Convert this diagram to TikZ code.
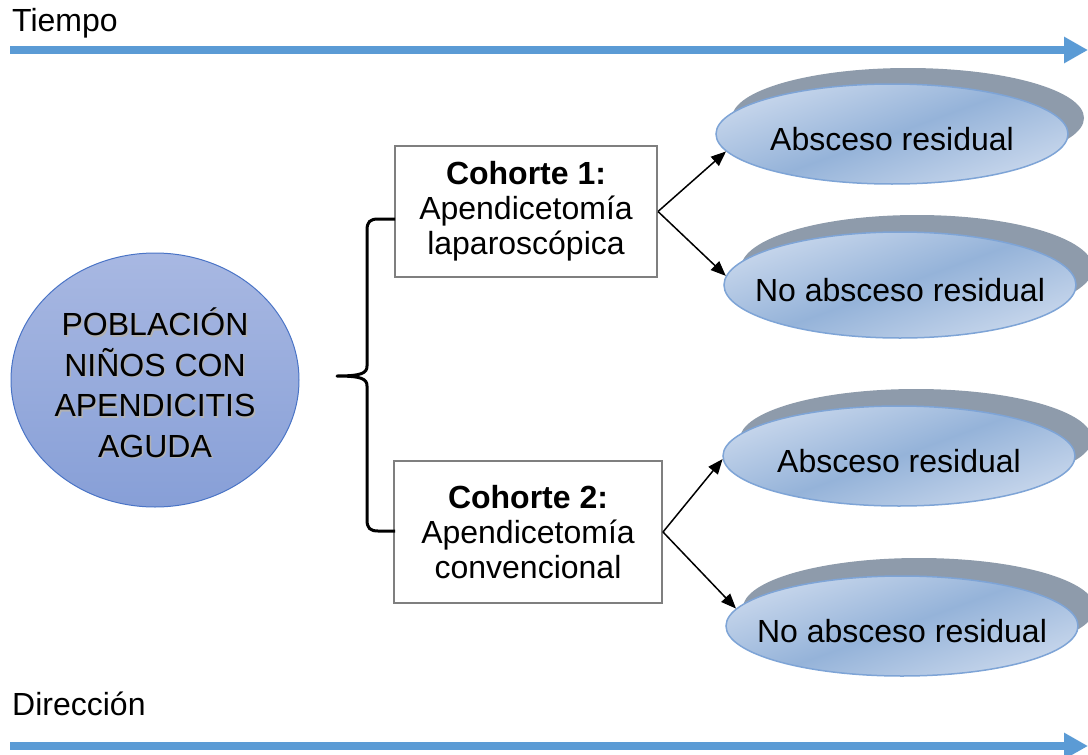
\documentclass[tikz,border=0pt]{standalone}
\usepackage{fontspec}
\setmainfont{Liberation Sans}
\usetikzlibrary{shapes.geometric,arrows.meta,calc}
\definecolor{timeblue}{HTML}{5B9BD5}
\definecolor{ellLight}{HTML}{C8D7EC}
\definecolor{ellMid}{HTML}{95B3D9}
\definecolor{ellBorder}{HTML}{7EA4D6}
\definecolor{ellShadow}{HTML}{8E9BAB}
\definecolor{popTop}{HTML}{A8B8E2}
\definecolor{popBot}{HTML}{879FD7}
\definecolor{popBorder}{HTML}{4A74C6}
\definecolor{boxGray}{HTML}{7F7F7F}
\tikzset{
  txt/.style={font=\fontsize{32}{35}\selectfont, inner sep=0pt},
  bigarrow/.style={line width=8pt, draw=timeblue, -{Triangle[length=24pt,width=25pt]}},
  outshadow/.style={ellipse, fill=ellShadow, minimum width=352pt, minimum height=100pt, inner sep=0pt},
  outcome/.style={ellipse, draw=ellBorder, line width=1.5pt, top color=ellLight, bottom color=ellLight, middle color=ellMid, shading angle=20, minimum width=352pt, minimum height=100pt, txt, inner xsep=-80pt, inner ysep=0pt, text height=33pt, text depth=0pt},
  cohort/.style={draw=boxGray, line width=2pt, fill=white, align=center, txt},
  conn/.style={line width=1.5pt, -{Triangle[length=15pt,width=12pt]}},
  pop/.style={ellipse, draw=popBorder, line width=1pt, top color=popTop, bottom color=popBot, minimum width=288pt, minimum height=254pt, inner sep=0pt},
  poptext/.style={align=center, font=\fontsize{32}{40.5}\selectfont, inner sep=0pt},
}
\begin{document}
\begin{tikzpicture}[x=1pt,y=-1pt]
\useasboundingbox (0,0) rectangle (1088,755);
% time axes
\node[txt, anchor=base west] (tiempo) at (12,31) {Tiempo};
\coordinate (t0) at (10,50);
\coordinate (t1) at (1088,50);
\draw[bigarrow] (t0) -- (t1);
\node[txt, anchor=base west] (direccion) at (12,715) {Dirección};
\coordinate (d0) at (10,746);
\coordinate (d1) at (1088,746);
\draw[bigarrow] (d0) -- (d1);
% population
\node[pop] (pop) at (155,380) {};
\node[poptext, text=black!30] (popsh) at (156.5,384.5) {POBLACIÓN\\NIÑOS CON\\APENDICITIS\\AGUDA};
\node[poptext] (poptxt) at (155,383) {POBLACIÓN\\NIÑOS CON\\APENDICITIS\\AGUDA};
% cohorts
\node[cohort, minimum width=262pt, minimum height=131pt] (c1) at (526,211.5) {\textbf{Cohorte 1:}\\Apendicetomía\\laparoscópica};
\node[cohort, minimum width=268pt, minimum height=142pt] (c2) at (528,532) {\textbf{Cohorte 2:}\\Apendicetomía\\convencional};
% brace
\coordinate (bt) at (395,219);
\coordinate (bb) at (395,531);
\coordinate (btip) at (337,376);
\draw[line width=3pt, line join=round] (bt) -- (378,219) .. controls (370,219) and (367,222) .. (367,230) -- (367,366) .. controls (367,373) and (362,376) .. (btip)
  .. controls (362,376) and (367,379) .. (367,386) -- (367,520) .. controls (367,528) and (370,531) .. (378,531) -- (bb);
% outcomes
\coordinate (p1) at (892,134);
\coordinate (p2) at (900,285);
\coordinate (p3) at (899,456);
\coordinate (p4) at (902,626);
\node[outshadow] (s1) at ($(p1)+(16,-16)$) {};
\node[outshadow, minimum height=106pt] (s2) at ($(p2)+(17,-17)$) {};
\node[outshadow] (s3) at ($(p3)+(17,-17)$) {};
\node[outshadow] (s4) at ($(p4)+(17,-18)$) {};
\node[outcome] (o1) at (p1) {Absceso residual};
\node[outcome, minimum height=106pt] (o2) at (p2) {No absceso residual};
\node[outcome] (o3) at (p3) {Absceso residual};
\node[outcome] (o4) at (p4) {No absceso residual};
% connectors
\draw[conn] (c1.east) -- (o1.186);
\draw[conn] (c1.east) -- (o2.177);
\draw[conn] (c2.east) -- (o3.181);
\draw[conn] (c2.east) -- (o4.174);
\end{tikzpicture}
\end{document}
